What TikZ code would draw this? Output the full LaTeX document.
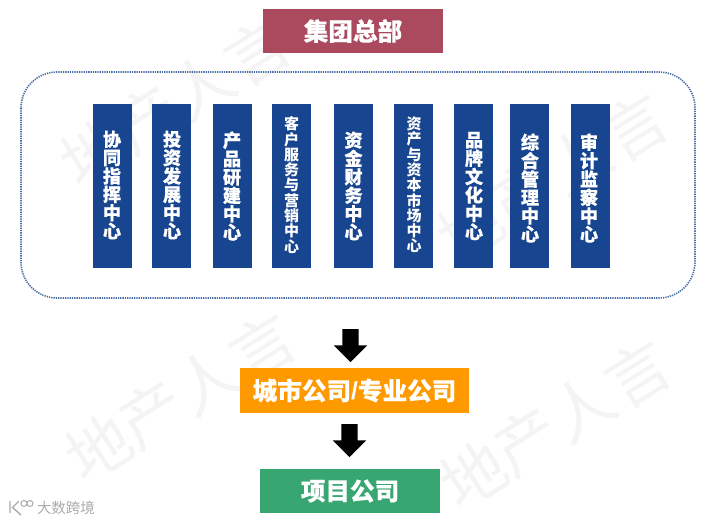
\documentclass[tikz,border=0pt]{standalone}
\usepackage{fontspec}
\setmainfont{Noto Sans CJK SC}[BoldFeatures={FakeBold=0.35}]
\newfontfamily\plaincjk{Noto Sans CJK SC}
\newfontfamily\slashfont{Liberation Sans}
\usetikzlibrary{shapes.arrows}
\definecolor{hq}{HTML}{AB4A5E}
\definecolor{col}{HTML}{17458F}
\definecolor{city}{HTML}{FF9900}
\definecolor{proj}{HTML}{38A670}
\definecolor{dots}{HTML}{4A6FA5}
\definecolor{wm}{HTML}{F4F4F4}
\definecolor{logo}{HTML}{ABABAB}
\tikzset{
  x=1pt,y=-1pt,
  banner/.style={fill=#1,text=white,font=\fontsize{24.6}{26}\selectfont\bfseries,inner sep=0pt,anchor=center},
  colbox/.style={fill=col,minimum width=39pt,minimum height=164pt,inner sep=0pt,anchor=center},
  collabel/.style={text=white,inner sep=0pt,align=center,anchor=center},
  big/.style={collabel,font=\fontsize{18.2}{18.4}\selectfont\bfseries},
  small/.style={collabel,font=\plaincjk\fontsize{15}{15.3}\selectfont\bfseries},
  blockarrow/.style={single arrow,fill=black,draw=none,rotate=-90,minimum width=33pt,minimum height=33pt,single arrow head extend=8.5pt,single arrow head indent=0pt,inner xsep=0pt,inner ysep=8pt,anchor=center},
  wmark/.style={text=wm,font=\fontsize{64}{64}\selectfont,rotate=32,inner sep=0pt,anchor=center},
  logotext/.style={text=logo,font=\fontsize{14.5}{15}\selectfont,inner sep=0pt,anchor=center}
}
\begin{document}
\begin{tikzpicture}
\useasboundingbox (0,0) rectangle (721,523);
% watermarks
\foreach \ox/\oy in {93/152, 470/227, 98/447, 473/474}{
  \node[wmark] at (\ox,\oy) {地};
  \node[wmark] at (\ox+54,\oy-33) {产};
  \node[wmark] at (\ox+109,\oy-66) {人};
  \node[wmark] at (\ox+165,\oy-100) {言};
}
% top box
\node[banner=hq,minimum width=180pt,minimum height=44pt] (hqbox) at (353,31) {集团总部};
% dotted frame
\draw[dots,line width=1.6pt,dash pattern=on 1.3pt off 1pt,rounded corners=36pt] (21,72) rectangle (695,298);
% columns
\foreach \n/\x in {c1/112.5,c2/171.5,c3/232.5,c4/291.5,c5/353.5,c6/413.5,c7/473.5,c8/529.5,c9/590.5}
  \node[colbox] (\n) at (\x,186) {};
\node[big]   (t1) at (112,185) {协\\同\\指\\挥\\中\\心};
\node[big]   (t2) at (172,185) {投\\资\\发\\展\\中\\心};
\node[big]   (t3) at (232,186) {产\\品\\研\\建\\中\\心};
\node[small] (t4) at (291.5,185) {客\\户\\服\\务\\与\\营\\销\\中\\心};
\node[big]   (t5) at (353.5,186) {资\\金\\财\\务\\中\\心};
\node[small] (t6) at (414,185) {资\\产\\与\\资\\本\\市\\场\\中\\心};
\node[big]   (t7) at (474,186) {品\\牌\\文\\化\\中\\心};
\node[big]   (t8) at (530,188) {综\\合\\管\\理\\中\\心};
\node[big]   (t9) at (589,188) {审\\计\\监\\察\\中\\心};
% arrows and lower boxes
\node[blockarrow] (a1) at (350.5,341.5) {};
\node[banner=city,minimum width=229pt,minimum height=45pt] (citybox) at (354.5,390.5) {城市公司{\slashfont\bfseries /}专业公司};
\node[blockarrow] (a2) at (349.5,436.5) {};
\node[banner=proj,minimum width=180pt,minimum height=44pt] (projbox) at (350,491) {项目公司};
% logo mark
\draw[logo,line width=1.4pt] (10,501) -- (10,513) (19,501) -- (12.5,507.5) -- (21,515);
\draw[logo,line width=1pt] (24,503.5) circle (3pt) (30,503.5) circle (3pt);
\node[logotext] (brand) at (66,508) {大数跨境};
\end{tikzpicture}
\end{document}
